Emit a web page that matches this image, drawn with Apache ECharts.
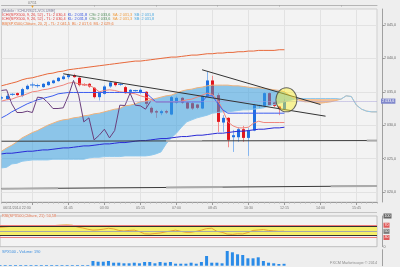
<!DOCTYPE html>
<html><head><meta charset="utf-8">
<script src="https://cdn.jsdelivr.net/npm/echarts@6/dist/echarts.min.js"></script>
<style>html,body{margin:0;padding:0;background:#eeeeee;}#c{width:400px;height:267px;}</style>
</head><body><div id="c"></div><script>
// ---------- data ----------
const categories = ['21:00','21:15','21:30','21:45','22:00','22:15','22:30','22:45','23:00','00:45','01:00','01:15','01:30','01:45','02:00','02:15','02:30','02:45','03:00','03:15','03:30','03:45','04:00','04:15','04:30','04:45','05:00','05:15','05:30','05:45','06:00','06:15','06:30','06:45','07:00','07:15','07:30','07:45','08:00','08:15','08:30','08:45','09:00','09:15','09:30','09:45','10:00','10:15','10:30','10:45','11:00','11:15','11:30','11:45','12:00','12:15','12:30','12:45','13:00','13:15','13:30','13:45','14:00','14:15','14:30','14:45','15:00','15:15','15:30','15:45','16:00','16:15','16:30','16:45'];
const firstDateLabel = '06/11/2014 22:30';
const topDateLabel = '07/11';
// [open, close, low, high]
const ohlc = [
 [2034.0,2034.2,2033.8,2034.4],[2033.9,2034.4,2033.8,2034.7],[2034.6,2034.65,2034.4,2034.8],[2034.8,2034.5,2034.4,2034.9],
 [2034.4,2035.4,2034.2,2035.6],[2035.4,2035.9,2035.3,2036.1],[2036.0,2036.05,2035.6,2036.4],[2035.9,2035.95,2035.6,2036.2],
 [2035.7,2036.2,2035.6,2036.3],[2036.0,2036.5,2035.9,2036.6],[2036.3,2036.7,2036.2,2036.8],[2036.6,2037.1,2036.5,2037.2],
 [2036.9,2037.3,2036.8,2037.5],[2037.2,2037.5,2036.9,2037.7],[2037.5,2037.2,2037.1,2037.7],[2037.1,2036.0,2035.8,2037.2],
 [2036.1,2036.0,2035.9,2036.3],[2036.2,2035.8,2035.6,2036.3],[2035.6,2034.2,2034.0,2035.7],[2034.2,2034.9,2033.7,2035.0],
 [2034.7,2035.8,2034.6,2036.0],[2035.8,2036.4,2035.6,2036.5],[2036.4,2036.0,2035.8,2036.5],[2036.1,2036.15,2035.9,2036.3],
 [2035.7,2034.8,2034.7,2035.9],[2035.0,2035.3,2034.9,2035.4],[2035.15,2035.2,2035.0,2035.3],[2034.9,2035.3,2034.7,2035.5],
 [2035.0,2033.2,2032.6,2035.1],[2032.6,2031.9,2031.7,2032.8],[2032.1,2031.9,2031.1,2032.3],[2031.8,2032.1,2031.5,2032.3],
 [2032.1,2031.9,2031.7,2032.3],[2031.6,2034.2,2031.5,2034.4],[2033.4,2034.1,2033.2,2034.3],[2034.1,2033.4,2033.2,2034.2],
 [2033.4,2032.5,2032.4,2033.5],[2033.3,2032.5,2032.3,2033.4],[2033.1,2032.6,2032.4,2033.2],[2032.5,2034.4,2032.4,2034.5],
 [2034.3,2036.7,2034.2,2038.0],[2036.7,2034.5,2034.4,2037.4],[2034.5,2030.5,2029.0,2034.8],[2030.4,2031.1,2029.0,2031.5],
 [2031.1,2027.8,2026.7,2031.2],[2028.2,2028.5,2026.0,2029.3],[2028.2,2029.4,2027.5,2029.7],[2029.4,2028.1,2027.5,2029.9],
 [2028.1,2029.2,2025.4,2029.6],[2029.2,2033.0,2029.1,2033.2],[2032.9,2032.95,2032.6,2033.1],[2032.9,2034.8,2032.7,2034.9],
 [2034.8,2033.0,2032.9,2034.9],[2033.4,2032.9,2032.7,2033.5],[2032.8,2032.4,2031.5,2032.9],[2032.4,2033.6,2032.3,2033.9]
];
const volume = [70,70,70,70,70,70,70,70,70,70,70,70,70,70,70,70,70,70,
 470,400,400,470,300,300,240,240,300,240,370,370,240,370,300,370,200,200,200,300,200,370,
 970,300,300,240,1470,1340,1140,1070,740,740,840,470,300,240,170,190];
const rsi = [63,64.5,66,67,67.5,67.5,67,67,67.5,67.5, 68,69.5,70.5,71,70,64,61,57,54,55,
 57,60,58,53,51,53,54,49,42,41, 43,44.5,48,51,54,50,47,47,50,54,
 59,60,50,47,41,40,42,41.5,46,53, 54.5,56,53,51.5,50,50.58];
const tenkan = [2033.6,2033.8,2033.9,2034.2,2034.4,2034.7,2035.0,2035.1,2035.3,2035.4,
 2035.6,2035.8,2036.0,2036.3,2036.4,2036.2,2036.1,2036.0,2035.6,2035.0,
 2035.2,2035.3,2035.2,2035.0,2034.9,2034.8,2034.7,2034.4,2034.2,2033.9,
 2033.5,2033.5,2033.5,2033.5,2033.5,2033.6,2033.8,2033.9,2034.2,2034.5,
 2034.8,2034.6,2033.8,2032.3,2030.5,2029.9,2029.6,2029.6,2029.7,2030.3,
 2030.6,2030.4,2030.4,2030.4,2030.4,2030.4];
const kijun = [2031.1,2031.5,2032.0,2032.4,2032.8,2033.2,2033.5,2033.8,2034.0,2034.2,
 2034.4,2034.7,2034.8,2034.9,2034.9,2034.9,2034.9,2034.9,2034.9,2034.9,
 2034.9,2034.9,2034.9,2034.9,2034.9,2034.9,2034.9,2034.9,2034.9,2034.2,
 2033.5,2033.5,2033.5,2033.5,2033.5,2033.5,2033.5,2033.5,2033.5,2033.5,
 2034.4,2034.4,2033.3,2032.3,2031.8,2031.8,2031.8,2031.8,2031.8,2031.8,
 2031.8,2031.8,2031.8,2031.8,2031.8,2031.8];
const chikou = [2035.2,2035.3,2033.2,2031.9,2031.9,2032.1,2031.9,2034.2,2034.1,2033.4,
 2032.5,2032.5,2032.6,2034.4,2036.7,2034.5,2030.5,2031.1,2027.8,2028.5,
 2029.4,2028.1,2029.2,2033.0,2032.95,2034.8,2033.0,2032.9,2032.4,2033.6];
const senkouA = [2026.1,2026.6,2027.0,2027.5,2028.1,2028.5,2028.9,2029.2,2029.6,2030.0,
 2030.3,2030.6,2030.8,2030.9,2031.1,2031.2,2031.4,2031.5,2031.7,2031.8,
 2032.0,2032.2,2032.4,2032.5,2032.9,2033.0,2033.2,2033.5,2033.6,2033.8,
 2034.0,2034.2,2034.4,2034.5,2034.8,2035.1,2035.3,2035.4,2035.6,2035.7,
 2035.9,2036.0,2036.0,2036.0,2036.0,2035.9,2035.9,2035.8,2035.7,2035.6,
 2035.6,2035.5,2035.4,2035.3,2035.2,2035.0,2034.5,2034.0,2033.7,2033.5,
 2033.5,2033.4,2033.3,2033.4,2033.5,2033.7,2033.9,2034.4,2034.3,2033.0,
 2032.4,2032.1,2032.0,2032.0];
const senkouB = [2023.6,2023.7,2024.2,2024.3,2024.6,2024.7,2024.8,2024.8,2024.8,2024.8,
 2024.9,2024.9,2024.9,2024.9,2024.9,2024.9,2024.9,2025.1,2025.2,2025.2,
 2025.3,2025.3,2025.3,2025.3,2025.4,2025.4,2025.4,2025.4,2025.4,2025.5,
 2025.7,2026.0,2027.2,2028.1,2028.8,2029.7,2030.5,2030.8,2031.1,2031.3,
 2031.5,2031.8,2031.9,2032.0,2032.0,2032.1,2032.2,2032.3,2032.3,2032.4,
 2032.5,2032.6,2032.9,2033.1,2033.3,2033.5,2033.7,2033.9,2034.0,2034.0,
 2034.0,2034.0,2034.0,2034.0,2034.0,2034.0,2033.9,2034.4,2034.3,2033.0,
 2032.4,2032.1,2032.0,2032.0];
const bbUpper = [2035.9,2036.1,2036.3,2036.5,2036.8,2037.0,2037.1,2037.3,2037.5,2037.7,
 2037.8,2038.0,2038.1,2038.3,2038.4,2038.5,2038.6,2038.7,2038.8,2038.9,
 2039.0,2039.1,2039.2,2039.3,2039.4,2039.5,2039.6,2039.6,2039.7,2039.8,
 2039.9,2040.0,2040.1,2040.2,2040.2,2040.3,2040.4,2040.5,2040.5,2040.6,
 2040.7,2040.7,2040.8,2040.8,2040.9,2040.9,2041.0,2041.0,2041.1,2041.1,
 2041.2,2041.2,2041.2,2041.2,2041.3,2041.3];
const bbMiddle = [2025.7,2025.8,2025.8,2025.9,2026.0,2026.1,2026.1,2026.2,2026.3,2026.3,
 2026.4,2026.5,2026.6,2026.6,2026.7,2026.8,2026.9,2026.9,2027.0,2027.1,
 2027.2,2027.2,2027.3,2027.4,2027.4,2027.5,2027.6,2027.7,2027.7,2027.8,
 2027.9,2028.0,2028.0,2028.1,2028.2,2028.3,2028.3,2028.4,2028.5,2028.5,
 2028.6,2028.7,2028.8,2028.8,2028.9,2029.0,2029.1,2029.1,2029.2,2029.3,
 2029.4,2029.4,2029.5,2029.6,2029.6,2029.7];
const priceTicks = [2020,2025,2030,2035,2040,2045];
const rsiTicks = [0,30,50,70,100];
const lastPrice = 2033.6;
const supportUpper = [[0,2027.6],[73,2027.7]];
const supportLower = [[0,2020.5],[73,2020.9]];
const supportGraySegs = [
 [[32,2027.65],[39,2027.65]], [[71,2027.7],[73,2027.7]],
 [[0,2020.5],[11,2020.56]], [[32,2020.68],[43,2020.74]], [[64,2020.85],[73,2020.9]]
];
const trendA = [[12,2037.7],[63,2031.35]];
const trendB = [[39,2038.3],[62,2033.1]];
const highlight = [[55,2033.8]];

// ---------- chart ----------
const FONT = 'Liberation Sans, Arial, sans-serif';
const fmtPrice = v => { const s = Number(v).toFixed(1).replace('.', ','); return s.slice(0,1) + ' ' + s.slice(1); };
const isLabelIdx = i => i >= 6 && (i - 6) % 7 === 0;

function renderCandle(params, api) {
  const i = api.value(0), o = api.value(1), c = api.value(2), l = api.value(3), h = api.value(4);
  const po = api.coord([i, o]), pc = api.coord([i, c]), pl = api.coord([i, l]), ph = api.coord([i, h]);
  const up = c >= o;
  const x = Math.round(po[0]) + 0.5;
  let top = Math.min(po[1], pc[1]), bot = Math.max(po[1], pc[1]);
  let w = 3;
  if (bot - top < 1) { const m = (top + bot) / 2; top = m - 0.5; bot = m + 0.5; w = 5; }
  return {type: 'group', children: [
    {type: 'line', shape: {x1: x, y1: ph[1], x2: x, y2: pl[1]}, style: {stroke: up ? '#86b6f0' : '#f28c8c', lineWidth: 1}},
    {type: 'rect', shape: {x: x - w / 2, y: top, width: w, height: bot - top}, style: {fill: up ? '#1f6fe0' : '#e1141d'}}
  ]};
}

function renderCloud(params, api) {
  if (params.dataIndex !== 0) return null;
  const n = senkouA.length;
  const A = [], B = [], D = [];
  for (let i = 0; i < n; i++) { A.push(api.coord([i, senkouA[i]])); B.push(api.coord([i, senkouB[i]])); D.push(senkouA[i] - senkouB[i]); }
  const children = [];
  let runA = [A[0]], runB = [B[0]], sign = D[0] >= 0 ? 1 : -1;
  const flush = () => {
    if (runA.length > 1) children.push({type: 'polygon', shape: {points: runA.concat(runB.slice().reverse())},
      style: {fill: sign > 0 ? 'rgba(55,158,224,0.55)' : 'rgba(245,160,90,0.6)'}});
  };
  for (let i = 1; i < n; i++) {
    const s = D[i] > 0 ? 1 : D[i] < 0 ? -1 : sign;
    if (s !== sign) {
      const t = D[i-1] / (D[i-1] - D[i]);
      const P = [A[i-1][0] + t * (A[i][0] - A[i-1][0]), A[i-1][1] + t * (A[i][1] - A[i-1][1])];
      runA.push(P); runB.push(P); flush();
      runA = [P]; runB = [P]; sign = s;
    }
    runA.push(A[i]); runB.push(B[i]);
  }
  flush();
  return {type: 'group', children};
}

const lineS = (name, data, color, z, extra) => Object.assign({
  name, type: 'line', xAxisIndex: 0, yAxisIndex: 0, data, symbol: 'none', silent: true, z,
  lineStyle: {color, width: 1}, animation: false
}, extra || {});

const xBase = {type: 'category', data: categories, boundaryGap: false};
const ichiRich = {
  r: {color: '#e03c3c', fontSize: 3.8, fontFamily: FONT},
  b: {color: '#3050e0', fontSize: 3.8, fontFamily: FONT},
  g: {color: '#4b8a55', fontSize: 3.8, fontFamily: FONT},
  o: {color: '#f09a3a', fontSize: 3.8, fontFamily: FONT},
  c: {color: '#4aa8e0', fontSize: 3.8, fontFamily: FONT}
};
const ichiText = '{r|ICHI(SPX500, 9, 26, 52) - TL: 2 030,4}  {b|KL: 2 031,8}  {g|CSt: 2 033,6}  {o|SA: 2 031,3}  {c|SB: 2 031,8}';
const smallTitle = (text, left, top, color, extra) => Object.assign({
  text, left, top, padding: 0, textStyle: {fontSize: 3.8, color, fontWeight: 'normal', fontFamily: FONT}
}, extra || {});

const series = [
  {type: 'custom', name: 'candles', xAxisIndex: 0, yAxisIndex: 0, renderItem: renderCandle, z: 2, silent: true,
   data: ohlc.map((d, i) => [i, d[0], d[1], d[2], d[3]]), encode: {x: 0, y: [1, 2, 3, 4]}, clip: true},
  {type: 'custom', name: 'cloud', xAxisIndex: 0, yAxisIndex: 0, renderItem: renderCloud, z: 3, silent: true,
   data: senkouA.map((v, i) => [i, v, senkouB[i]]), encode: {x: 0, y: [1, 2]}, clip: true},
  lineS('SA', senkouA, '#efb27c', 4),
  lineS('SB', senkouB, '#8fc9ee', 4),
  lineS('BB upper', bbUpper, '#e8683a', 4),
  lineS('BB middle', bbMiddle, '#2a2ad6', 4),
  lineS('Tenkan', tenkan, '#f0857c', 4),
  lineS('Kijun', kijun, '#3d5ef0', 4, {
    markLine: {silent: true, symbol: 'none', animation: false, data: [{yAxis: lastPrice}],
      lineStyle: {color: '#a9a3da', type: 'dotted', width: 1},
      label: {show: true, position: 'end', formatter: () => fmtPrice(lastPrice), color: '#fff', backgroundColor: '#8088cc',
        fontSize: 3.6, fontFamily: FONT, padding: [0.8, 1.2, 0.4, 1.2], distance: 4}}
  }),
  lineS('Chikou', chikou, '#6b3f7d', 4),
  lineS('support1', supportUpper, '#3a3a3a', 4),
  lineS('support2', supportLower, '#3a3a3a', 4),
  ...supportGraySegs.map((seg, k) => lineS('gray' + k, seg, '#ababab', 4.5, {lineStyle: {color: '#ababab', width: 2}})),
  lineS('trendA', trendA, '#333333', 5),
  lineS('trendB', trendB, '#333333', 5),
  {type: 'scatter', name: 'highlight', xAxisIndex: 0, yAxisIndex: 0, data: highlight, symbol: 'circle', symbolSize: [21, 24],
   symbolOffset: [2, 0], silent: true, z: 6, itemStyle: {color: 'rgba(250,240,50,0.6)', borderColor: '#444', borderWidth: 1}},
  {type: 'line', name: 'RSI', xAxisIndex: 2, yAxisIndex: 1, data: rsi, symbol: 'none', silent: true, z: 4,
   lineStyle: {color: '#e6a136', width: 1},
   markArea: {silent: true, data: [[{yAxis: 38}, {yAxis: 68}]], itemStyle: {color: '#f5ef6a'}},
   markLine: {silent: true, symbol: 'none', label: {show: false}, animation: false, data: [
     {yAxis: 70, lineStyle: {color: '#ef7b7b', width: 1, type: 'solid'}},
     {yAxis: 30, lineStyle: {color: '#ef7b7b', width: 1, type: 'solid'}},
     {yAxis: 68, lineStyle: {color: '#333', width: 1, type: 'solid'}},
     {yAxis: 38, lineStyle: {color: '#333', width: 1, type: 'solid'}},
     {yAxis: 50, lineStyle: {color: '#a8a8a8', width: 1, type: 'solid'}}
   ]}},
  {type: 'bar', name: 'Volume', xAxisIndex: 3, yAxisIndex: 2, data: volume, barWidth: 3, silent: true,
   itemStyle: {color: '#2a8be8'}}
];

const chart = echarts.init(document.getElementById('c'), null, {renderer: 'canvas'});
chart.setOption({
  animation: false,
  backgroundColor: '#eeeeee',
  textStyle: {fontFamily: FONT},
  title: [
    smallTitle('[Mobile : ICHI-RSI21-VOLUME]', 2, 8.6, '#7d7d9a'),
    smallTitle(ichiText, 2, 12.9, '#e03c3c', {textStyle: {fontSize: 3.8, fontWeight: 'normal', fontFamily: FONT, rich: ichiRich}}),
    smallTitle(ichiText, 2, 17.2, '#e03c3c', {textStyle: {fontSize: 3.8, fontWeight: 'normal', fontFamily: FONT, rich: ichiRich}}),
    smallTitle('BB(SPX500,Clôture, 20, 2) - TL: 2 041,5  BL: 2 017,6  ML: 2 029,6', 2, 21.6, '#e8773a'),
    smallTitle('RSI(SPX500,Clôture, 21): 50,58', 2, 213.6, '#e0704a', {backgroundColor: '#eeeeee'}),
    smallTitle('SPX500 - Volume: 190', 2, 249.8, '#3d8fe0'),
    smallTitle('FXCM Marketscope © 2014', null, 260.6, '#8a8a8a', {right: 23})
  ],
  graphic: [
    {type: 'line', shape: {x1: 0, y1: 212.5, x2: 377, y2: 212.5}, style: {stroke: '#c4c4c4', lineWidth: 1}, silent: true}
  ],
  grid: [
    {left: -1, width: 378, top: 9, height: 193, show: true, backgroundColor: '#f3f3f3', borderColor: '#cfcfcf', borderWidth: 1},
    {left: -1, width: 378, top: 216, height: 30.7, show: true, backgroundColor: '#f3f3f3', borderColor: '#bdbdbd', borderWidth: 1},
    {left: -1, width: 378, top: 249.7, height: 16, show: false}
  ],
  xAxis: [
    Object.assign({}, xBase, {gridIndex: 0, position: 'bottom',
      axisLine: {lineStyle: {color: '#9a9a9a'}},
      axisTick: {interval: 0, length: 1.5, lineStyle: {color: '#b0b0b0'}},
      axisLabel: {interval: isLabelIdx, color: '#777', fontSize: 3.6, fontFamily: FONT, margin: 3.5,
        formatter: (v, i) => i === 6 ? '{d|' + firstDateLabel + '}' : v,
        rich: {d: {padding: [0, 31, 0, 0], fontSize: 3.6, color: '#777', fontFamily: FONT}}},
      splitLine: {show: true, interval: isLabelIdx, lineStyle: {color: '#e2e2e2'}}}),
    Object.assign({}, xBase, {gridIndex: 0, position: 'top', offset: 4,
      axisLine: {lineStyle: {color: '#b5b5b5'}},
      axisTick: {interval: i => i % 12 === 6, inside: true, length: 1.5, lineStyle: {color: '#aaa'}},
      axisLabel: {interval: i => i === 6, margin: -4, formatter: () => '{d|' + topDateLabel + '}\n{m|▼}',
        rich: {d: {fontSize: 3.5, color: '#777', fontFamily: FONT, align: 'center'}, m: {fontSize: 4, color: '#f0a020', align: 'center', lineHeight: 4}}},
      splitLine: {show: false}}),
    Object.assign({}, xBase, {gridIndex: 1, show: false}),
    Object.assign({}, xBase, {gridIndex: 2, show: false}),
    Object.assign({}, xBase, {gridIndex: 0, position: 'bottom', axisLine: {show: false},
      axisTick: {interval: isLabelIdx, length: 3, lineStyle: {color: '#999'}}, axisLabel: {show: false}, splitLine: {show: false}})
  ],
  yAxis: [
    {type: 'value', gridIndex: 0, position: 'right', offset: 5, min: 2018.5, max: 2047.4,
     axisLine: {show: true, lineStyle: {color: '#a0a0a0'}},
     axisTick: {show: true, customValues: priceTicks, length: 2, lineStyle: {color: '#999'}},
     axisLabel: {customValues: priceTicks, formatter: fmtPrice, color: '#666', fontSize: 3.6, fontFamily: FONT, margin: 2},
     splitLine: {show: true, lineStyle: {color: '#e2e2e2'}}},
    {type: 'value', gridIndex: 1, position: 'right', offset: 5, min: 0, max: 100,
     axisLine: {show: true, lineStyle: {color: '#a0a0a0'}},
     axisTick: {show: false, customValues: rsiTicks},
     axisLabel: {customValues: rsiTicks, margin: 1.5, fontSize: 3.6, fontFamily: FONT,
       formatter: v => (v === 70 || v === 30) ? '{r|' + v + '}' : v === 50 ? '{g|50}' : v === 100 ? '{k|100}' : '{p|' + v + '}',
       rich: {
         r: {backgroundColor: '#e05a5a', color: '#fff', fontSize: 3.6, padding: [0.5, 1], fontFamily: FONT},
         g: {backgroundColor: '#7a7a7a', color: '#fff', fontSize: 3.6, padding: [0.5, 1], fontFamily: FONT},
         k: {backgroundColor: '#666', color: '#fff', fontSize: 3.6, padding: [0.5, 1], fontFamily: FONT},
         p: {color: '#666', fontSize: 3.6, fontFamily: FONT}
       }},
     splitLine: {show: false}},
    {type: 'value', gridIndex: 2, position: 'right', offset: 5, min: 0, max: 1600,
     axisLine: {show: true, lineStyle: {color: '#a0a0a0'}}, axisTick: {show: false}, axisLabel: {show: false}, splitLine: {show: false}}
  ],
  series
});
</script></body></html>
